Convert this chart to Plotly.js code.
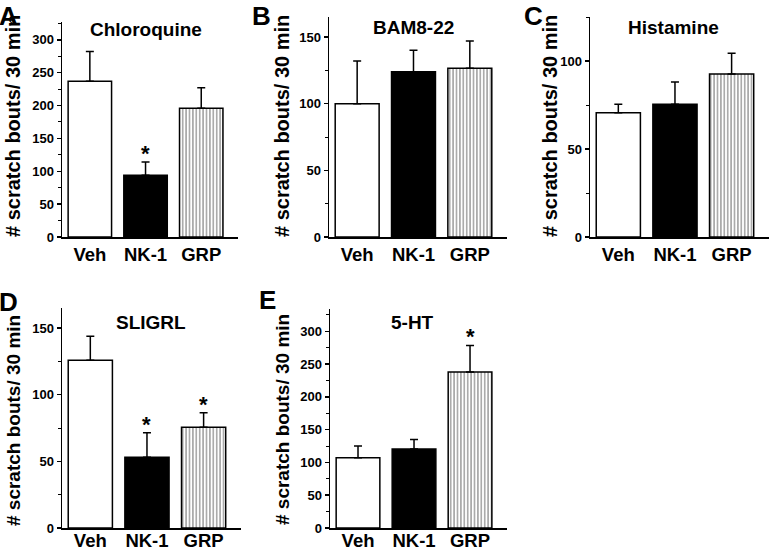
<!DOCTYPE html>
<html><head><meta charset="utf-8">
<script src="https://cdn.plot.ly/plotly-3.0.1.min.js"></script>
<style>html,body{margin:0;padding:0;background:#fff}#chart{width:769px;height:550px}</style>
</head><body><div id="chart"></div>
<script>
var categories = ['Veh', 'NK-1', 'GRP'];
var panelLetters = ['A', 'B', 'C', 'D', 'E'];
var panelTitles = ['Chloroquine', 'BAM8-22', 'Histamine', 'SLIGRL', '5-HT'];
var yTitle = '# scratch bouts/ 30 min';

var chloroquine = [237, 94, 196];
var chloroquineErr = [45, 20, 31];
var chloroquineSig = [false, true, false];

var bam822 = [100, 124, 126.5];
var bam822Err = [32, 16, 20.5];
var bam822Sig = [false, false, false];

var histamine = [70.6, 75.4, 92.6];
var histamineErr = [4.8, 12.6, 11.8];
var histamineSig = [false, false, false];

var sligrl = [125.8, 53, 75.5];
var sligrlErr = [18, 18.5, 11];
var sligrlSig = [false, true, true];

var ht5 = [107, 120.4, 238];
var ht5Err = [18, 14.6, 40.5];
var ht5Sig = [false, false, true];

var yMax = [327, 165, 125, 165, 334];
var yTicks = [[0,50,100,150,200,250,300],[0,50,100,150],[0,50,100],[0,50,100,150],[0,50,100,150,200,250,300]];

var values = [chloroquine, bam822, histamine, sligrl, ht5];
var errs = [chloroquineErr, bam822Err, histamineErr, sligrlErr, ht5Err];
var sigs = [chloroquineSig, bam822Sig, histamineSig, sligrlSig, ht5Sig];

// pixel boxes: [left, right, top, bottom]
var boxes = [[62,238,22,237],[329,507,17,237],[590,769,17,237],[62,241,308,528],[330,507,309,528]];
var letterPos = [[8,0],[261,0],[533,0],[8,286],[267,284]];
var titlePos = [[146,29],[413,28],[673,28],[151,322],[412,322]];
var yTitlePos = [[13,126],[282,126],[550,126],[13,421],[282,420]];
var yTitleSize = [20, 20, 20, 19, 19];
var labelStandoff = [0, 0, 0, -5, -5];

var W = 769, H = 550;
var FONT = 'Liberation Sans, Arial, sans-serif';
var data = [], annotations = [];
var layout = {width: W, height: H, margin: {l:0,r:0,t:0,b:0}, showlegend: false,
  paper_bgcolor: '#fff', plot_bgcolor: 'rgba(0,0,0,0)'};

function bold(a) { return a.map(function (s) { return '<b>' + s + '</b>'; }); }

for (var i = 0; i < 5; i++) {
  var sfx = i === 0 ? '' : String(i + 1);
  var b = boxes[i];
  data.push({
    type: 'bar', x: categories, y: values[i], xaxis: 'x' + sfx, yaxis: 'y' + sfx,
    width: 0.78,
    marker: {color: ['#ffffff', '#000000', '#ffffff'],
      line: {color: '#000', width: 1.5},
      pattern: {shape: ['', '', '|'], fgcolor: '#000', bgcolor: '#fff', size: 3.4, solidity: 0.45, fillmode: 'overlay'}},
    error_y: {type: 'data', symmetric: false, array: errs[i], arrayminus: [0,0,0], color: '#000', thickness: 1.5, width: 4},
    hoverinfo: 'none'
  });
  layout['xaxis' + sfx] = {domain: [b[0]/W, b[1]/W], anchor: 'y' + sfx, range: [-0.5, 2.66],
    showline: true, linecolor: '#000', linewidth: 1.5, ticks: '', showgrid: false, zeroline: false,
    tickvals: categories, ticktext: bold(categories), ticklabelstandoff: labelStandoff[i],
    tickfont: {family: FONT, size: 18.5, color: '#000'}, fixedrange: true};
  layout['yaxis' + sfx] = {domain: [1 - b[3]/H, 1 - b[2]/H], anchor: 'x' + sfx, range: [0, yMax[i]],
    showline: true, linecolor: '#000', linewidth: 1.5, ticks: 'outside', ticklen: 4, tickwidth: 1.5, tickcolor: '#000',
    tickvals: yTicks[i], ticktext: bold(yTicks[i]), showgrid: false, zeroline: false,
    minor: {dtick: 25, ticks: 'outside', ticklen: 3, tickwidth: 1, tickcolor: '#000', showgrid: false},
    tickfont: {family: FONT, size: 13, color: '#000'}, fixedrange: true};
  annotations.push({xref: 'paper', yref: 'paper', x: letterPos[i][0]/W, y: 1 - letterPos[i][1]/H,
    xanchor: 'center', yanchor: 'top', borderpad: 0, showarrow: false, text: '<b>' + panelLetters[i] + '</b>',
    font: {family: FONT, size: 26, color: '#000'}});
  annotations.push({xref: 'paper', yref: 'paper', x: titlePos[i][0]/W, y: 1 - titlePos[i][1]/H,
    xanchor: 'center', yanchor: 'middle', showarrow: false, text: '<b>' + panelTitles[i] + '</b>',
    font: {family: FONT, size: 19, color: '#000'}});
  annotations.push({xref: 'paper', yref: 'paper', x: yTitlePos[i][0]/W, y: 1 - yTitlePos[i][1]/H,
    xanchor: 'center', yanchor: 'middle', showarrow: false, text: '<b>' + yTitle + '</b>', textangle: -90,
    font: {family: FONT, size: yTitleSize[i], color: '#000'}});
  for (var j = 0; j < 3; j++) {
    if (sigs[i][j]) {
      annotations.push({xref: 'x' + sfx, yref: 'y' + sfx, x: categories[j], y: values[i][j] + errs[i][j],
        xanchor: 'center', yanchor: 'bottom', yshift: -6, showarrow: false, text: '<b>*</b>',
        font: {family: FONT, size: 22, color: '#000'}});
    }
  }
}
layout.annotations = annotations;
Plotly.newPlot('chart', data, layout, {displayModeBar: false, staticPlot: true});
</script></body></html>
